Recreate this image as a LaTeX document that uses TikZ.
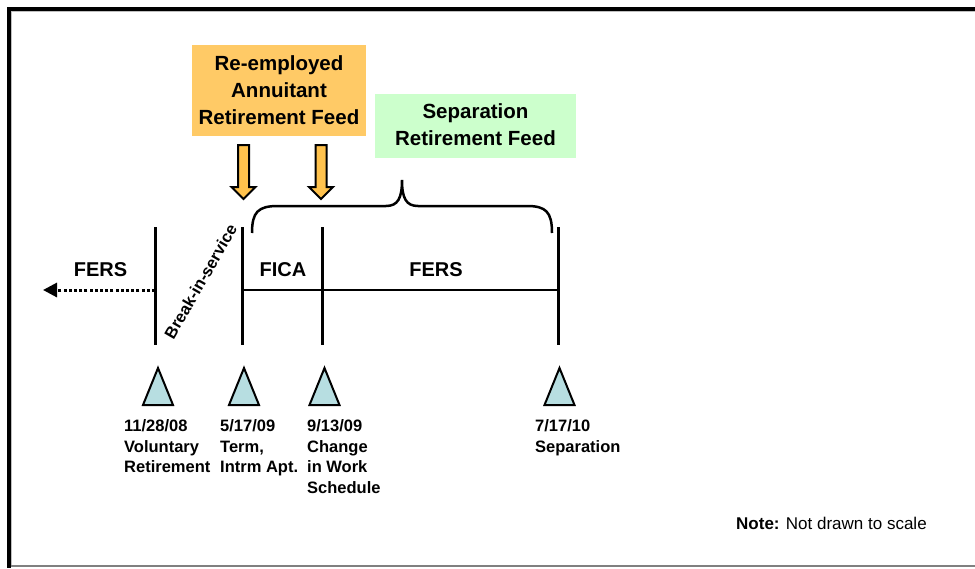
\documentclass[tikz,border=0pt]{standalone}
\usepackage{fontspec}
\setmainfont{Liberation Sans}
\usetikzlibrary{arrows.meta}
\definecolor{boxorange}{HTML}{FFCA66}
\definecolor{arroworange}{HTML}{FFC24D}
\definecolor{boxgreen}{HTML}{CCFFCC}
\definecolor{triblue}{HTML}{B7DEE1}
\begin{document}
\begin{tikzpicture}[x=1pt,y=-1pt,
  feedtext/.style={font=\fontsize{20.5}{27}\selectfont\bfseries, align=center, inner sep=0pt},
  periodlabel/.style={font=\fontsize{20}{24}\selectfont\bfseries, inner sep=0pt},
  datelabel/.style={font=\fontsize{16.5}{20.5}\selectfont\bfseries, align=left, anchor=north west, inner sep=0pt},
  tickline/.style={line width=3pt},
  triangmark/.pic={\draw[line width=2pt, fill=triblue, line join=miter] (-15,37) -- (0,0) -- (15,37) -- cycle;},
  feedarrow/.pic={\draw[line width=2pt, fill=arroworange, line join=miter] (-5.5,0) -- (5.5,0) -- (5.5,42) -- (12,42) -- (0,54) -- (-12,42) -- (-5.5,42) -- cycle;}
]
\useasboundingbox (0,0) rectangle (975,568);
% frame
\draw[line width=4pt] (975,9) -- (9,9) -- (9,568);
\draw[gray!50, line width=1pt] (975,11.5) -- (11.5,11.5) -- (11.5,566);
\draw[gray, line width=1.2pt] (11,566) -- (975,566);

% feed boxes
\node[fill=boxorange, minimum width=174pt, minimum height=91pt, inner sep=0pt] (reabox) at (279,90.5) {};
\node[feedtext] (reatext) at (279,90) {Re-employed\\Annuitant\\Retirement Feed};
\node[fill=boxgreen, minimum width=201pt, minimum height=64pt, inner sep=0pt] (sepbox) at (475.5,126) {};
\node[feedtext] (septext) at (475.5,124.5) {Separation\\Retirement Feed};

% feed arrows
\pic at (243.5,145) {feedarrow};
\pic at (321,145) {feedarrow};

% brace
\draw[line width=2.5pt] (252,233) .. controls (252,212) and (258,206) .. (278,206) -- (386,206)
  .. controls (398,206) and (402,198) .. (402,180)
  .. controls (402,198) and (406,206) .. (418,206) -- (527,206)
  .. controls (546,206) and (552,212) .. (552,233);

% timeline
\coordinate (t1top) at (155,227); \coordinate (t1bot) at (155,345); \coordinate (t1mid) at (155,290);
\coordinate (t2top) at (242.5,227); \coordinate (t2bot) at (242.5,345); \coordinate (t2mid) at (242.5,290);
\coordinate (t3top) at (322,227); \coordinate (t3bot) at (322,345);
\coordinate (t4top) at (558,227); \coordinate (t4bot) at (558,345); \coordinate (t4mid) at (558,290);
\coordinate (fersend) at (43,290);
\draw[tickline] (t1top) -- (t1bot);
\draw[tickline] (t2top) -- (t2bot);
\draw[tickline] (t3top) -- (t3bot);
\draw[tickline] (t4top) -- (t4bot);
\draw[line width=2pt] (t2mid) -- (t4mid);
\draw[line width=3pt, dash pattern=on 3pt off 2.2pt, -{Triangle[length=14pt,width=14pt]}] (t1mid) -- (fersend);

% period labels
\node[periodlabel] (fers1) at (100.5,270) {FERS};
\node[periodlabel] (fica) at (283,270) {FICA};
\node[periodlabel] (fers2) at (436,270) {FERS};
\node[font=\fontsize{16.5}{19}\selectfont\bfseries, rotate=60, inner sep=0pt] (bis) at (200.5,281.5) {Break-in-service};

% markers
\pic at (158,368) {triangmark};
\pic at (244,368) {triangmark};
\pic at (324.5,368) {triangmark};
\pic at (559.5,368) {triangmark};

% date labels
\node[datelabel] (d1) at (124,419.5) {11/28/08\\Voluntary\\Retirement};
\node[datelabel] (d2) at (220,419.5) {5/17/09\\Term,\\Intrm Apt.};
\node[datelabel] (d3) at (307,419.5) {9/13/09\\Change\\in Work\\Schedule};
\node[datelabel] (d4) at (535,419.5) {7/17/10\\Separation};

% note
\node[anchor=base west, inner sep=0pt, font=\fontsize{17}{20}\selectfont] (note) at (736,529) {\textbf{Note:} Not drawn to scale};
\end{tikzpicture}
\end{document}
